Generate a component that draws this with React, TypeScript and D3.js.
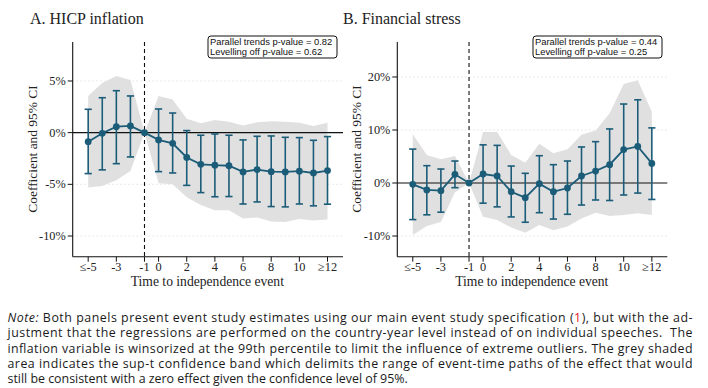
import * as d3 from "d3";

// event time periods (-5 bin ... 12 bin)
const periods = [-5, -4, -3, -2, -1, 0, 1, 2, 3, 4, 5, 6, 7, 8, 9, 10, 11, 12];
const tickValues = [-5, -3, -1, 0, 2, 4, 6, 8, 10, 12];
const tickLabels = ["≤-5", "-3", "-1", "0", "2", "4", "6", "8", "10", "≥12"];

// Panel A: HICP inflation (percent)
const hicpCoef = [-0.87, -0.06, 0.58, 0.65, 0, -0.7, -1.03, -2.4, -3.06, -3.15, -3.2, -3.8, -3.57, -3.77, -3.8, -3.73, -3.9, -3.67];
const hicpCiLo = [-3.96, -3.6, -3.0, -2.35, null, -3.77, -3.9, -5.1, -5.8, -6.2, -6.18, -6.9, -6.7, -7.15, -7.18, -6.9, -7.08, -6.92];
const hicpCiHi = [2.26, 3.38, 4.06, 3.55, null, 2.29, 1.9, 0.2, -0.25, -0.13, -0.25, -0.7, -0.35, -0.32, -0.45, -0.48, -0.74, -0.38];
const hicpBandLo = [-5.3, -5.15, -4.6, -3.7, 0, -4.9, -5.0, -6.25, -7.0, -7.5, -7.5, -8.3, -8.2, -8.6, -8.65, -8.35, -8.5, -8.4];
const hicpBandHi = [3.55, 4.8, 5.48, 5.1, 0, 3.55, 3.2, 1.35, 0.9, 1.23, 1.06, 0.7, 1.0, 1.1, 1.06, 0.97, 0.65, 0.97];
const hicpTicks = [5, 0, -5, -10];

// Panel B: Financial stress (percent)
const finCoef = [-0.25, -1.3, -1.45, 1.64, 0, 1.7, 1.32, -1.64, -2.77, -0.13, -1.64, -0.94, 1.32, 2.26, 3.46, 6.3, 6.9, 3.7];
const finCiLo = [-6.9, -6.0, -5.5, -0.88, null, -3.8, -4.5, -6.4, -7.4, -5.6, -6.8, -5.9, -4.15, -3.2, -3.3, -2.26, -1.9, -3.1];
const finCiHi = [6.4, 3.27, 2.64, 4.15, null, 7.2, 7.1, 3.2, 1.83, 5.15, 3.46, 4.15, 6.8, 7.8, 10.2, 14.9, 15.7, 10.4];
const finBandLo = [-9.8, -8.1, -7.36, -1.76, 0, -6.35, -7.0, -8.4, -9.4, -7.9, -8.9, -8.2, -6.7, -5.6, -6.2, -6.04, -5.7, -6.04];
const finBandHi = [9.2, 5.3, 4.5, 5.1, 0, 9.6, 9.6, 5.3, 3.8, 7.4, 5.6, 6.35, 9.1, 9.9, 13.15, 18.7, 19.4, 13.45];
const finTicks = [20, 10, 0, -10];

const noteLines = [
  "Both panels present event study estimates using our main event study specification (",
  "justment that the regressions are performed on the country-year level instead of on individual speeches.  The",
  "inflation variable is winsorized at the 99th percentile to limit the influence of extreme outliers. The grey shaded",
  "area indicates the sup-t confidence band which delimits the range of event-time paths of the effect that would",
  "still be consistent with a zero effect given the confidence level of 95%.",
];

const BLUE = "#1b5c78";
const SERIF = "'Liberation Serif', serif";
const SANS = "'Liberation Sans', Arial, sans-serif";

type PanelProps = {
  x0: number;
  x1: number;
  yDomain: [number, number];
  title: string;
  titleX: number;
  coef: number[];
  ciLo: (number | null)[];
  ciHi: (number | null)[];
  bandLo: number[];
  bandHi: number[];
  yTicks: number[];
  boxX: number;
  pTrend: string;
  pLevel: string;
};

function Panel(p: PanelProps) {
  const top = 42;
  const bottom = 256.7;
  const x = d3.scaleLinear().domain([-6.1, 13.1]).range([p.x0, p.x1]);
  const y = d3.scaleLinear().domain(p.yDomain).range([bottom, top]);

  const rows = periods.map((t, i) => ({
    t,
    c: p.coef[i],
    lo: p.ciLo[i],
    hi: p.ciHi[i],
    blo: p.bandLo[i],
    bhi: p.bandHi[i],
  }));

  const area = d3
    .area<(typeof rows)[0]>()
    .x((d) => x(d.t))
    .y0((d) => y(d.blo))
    .y1((d) => y(d.bhi));
  const line = d3
    .line<(typeof rows)[0]>()
    .x((d) => x(d.t))
    .y((d) => y(d.c));

  const midX = (p.x0 + p.x1) / 2 - 0.5;

  return (
    <g>
      <text x={p.titleX} y={24} fontFamily={SERIF} fontSize={16} fill="#222">
        {p.title}
      </text>

      {/* grid */}
      {p.yTicks
        .filter((v) => v !== 0)
        .map((v) => (
          <line
            key={v}
            x1={p.x0}
            x2={p.x1}
            y1={y(v)}
            y2={y(v)}
            stroke="#c8c8c8"
            strokeWidth={0.8}
            strokeDasharray="1 3"
          />
        ))}

      <path d={area(rows) ?? ""} fill="#e0e0e0" />

      <line x1={p.x0} x2={p.x1} y1={y(0)} y2={y(0)} stroke="#111" strokeWidth={1.2} />
      <line
        x1={x(-1)}
        x2={x(-1)}
        y1={top}
        y2={bottom}
        stroke="#111"
        strokeWidth={1.1}
        strokeDasharray="4 3"
      />

      {/* error bars */}
      {rows
        .filter((d) => d.lo !== null && d.hi !== null)
        .map((d) => (
          <g key={d.t} stroke={BLUE} strokeWidth={1.6}>
            <line x1={x(d.t)} x2={x(d.t)} y1={y(d.lo as number)} y2={y(d.hi as number)} />
            <line x1={x(d.t) - 3.6} x2={x(d.t) + 3.6} y1={y(d.lo as number)} y2={y(d.lo as number)} />
            <line x1={x(d.t) - 3.6} x2={x(d.t) + 3.6} y1={y(d.hi as number)} y2={y(d.hi as number)} />
          </g>
        ))}
      <path d={line(rows) ?? ""} fill="none" stroke={BLUE} strokeWidth={1.8} />
      {rows.map((d) => (
        <circle key={d.t} cx={x(d.t)} cy={y(d.c)} r={3.4} fill={BLUE} />
      ))}

      {/* axes */}
      <line x1={p.x0} x2={p.x0} y1={top} y2={bottom} stroke="#111" strokeWidth={1.1} />
      <line x1={p.x0} x2={p.x1} y1={bottom} y2={bottom} stroke="#111" strokeWidth={1.1} />
      {p.yTicks.map((v) => (
        <g key={v}>
          <line x1={p.x0 - 5} x2={p.x0} y1={y(v)} y2={y(v)} stroke="#111" strokeWidth={1} />
          <text
            x={p.x0 - 7}
            y={y(v)}
            dy="0.33em"
            textAnchor="end"
            fontFamily={SERIF}
            fontSize={12.3}
            fill="#222"
          >
            {`${v}%`}
          </text>
        </g>
      ))}
      {tickValues.map((v, i) => (
        <g key={v}>
          <line x1={x(v)} x2={x(v)} y1={bottom} y2={bottom + 5} stroke="#111" strokeWidth={1} />
          <text
            x={x(v)}
            y={271}
            textAnchor="middle"
            fontFamily={SERIF}
            fontSize={12.3}
            fill="#222"
          >
            {tickLabels[i]}
          </text>
        </g>
      ))}
      <text x={midX} y={285.5} textAnchor="middle" fontFamily={SERIF} fontSize={13.6} fill="#222">
        Time to independence event
      </text>
      <text
        transform={`translate(${p.x0 - 36},149) rotate(-90)`}
        textAnchor="middle"
        fontFamily={SERIF}
        fontSize={13.4}
        fill="#222"
      >
        Coefficient and 95% CI
      </text>

      {/* p-value box */}
      <rect
        x={p.boxX}
        y={36}
        width={129}
        height={22}
        rx={3}
        fill="#fff"
        stroke="#111"
        strokeWidth={1}
      />
      <text x={p.boxX + 2} y={45.3} fontFamily={SANS} fontSize={9.4} fill="#111">
        {p.pTrend}
      </text>
      <text x={p.boxX + 2} y={55} fontFamily={SANS} fontSize={9.4} fill="#111">
        {p.pLevel}
      </text>
    </g>
  );
}

export default function App() {
  const noteFont = "'Open Sans', 'Noto Sans', sans-serif";
  const noteY = [321.7, 337.2, 352.6, 368, 383.4];
  return (
    <div style={{ position: "fixed", left: 0, top: 0, background: "#fff" }}>
      <svg width={708} height={388} style={{ display: "block" }}>
        <rect width={708} height={388} fill="#fff" />
        <Panel
          x0={72.7}
          x1={343}
          yDomain={[-12, 8.77]}
          title="A. HICP inflation"
          titleX={30}
          coef={hicpCoef}
          ciLo={hicpCiLo}
          ciHi={hicpCiHi}
          bandLo={hicpBandLo}
          bandHi={hicpBandHi}
          yTicks={hicpTicks}
          boxX={208}
          pTrend="Parallel trends p-value = 0.82"
          pLevel="Levelling off p-value = 0.62"
        />
        <Panel
          x0={397.3}
          x1={667.3}
          yDomain={[-13.9, 26.6]}
          title="B. Financial stress"
          titleX={343}
          coef={finCoef}
          ciLo={finCiLo}
          ciHi={finCiHi}
          bandLo={finBandLo}
          bandHi={finBandHi}
          yTicks={finTicks}
          boxX={533}
          pTrend="Parallel trends p-value = 0.44"
          pLevel="Levelling off p-value = 0.25"
        />

        {/* note */}
        <text x={7.5} y={noteY[0]} fontFamily={noteFont} fontSize={12.4} fill="#1a1a1a" textLength={685} lengthAdjust="spacing">
          <tspan fontStyle="italic">Note:</tspan>
          {"  " + noteLines[0]}
          <tspan fill="#e8141c">1</tspan>
          {"), but with the ad-"}
        </text>
        {noteLines.slice(1, 4).map((s, i) => (
          <text
            key={i}
            x={7.5}
            y={noteY[i + 1]}
            fontFamily={noteFont}
            fontSize={12.4}
            fill="#1a1a1a"
            textLength={685}
            lengthAdjust="spacing"
            style={{ whiteSpace: "pre" }}
          >
            {s}
          </text>
        ))}
        <text x={7.5} y={noteY[4]} fontFamily={noteFont} fontSize={12.4} fill="#1a1a1a">
          {noteLines[4]}
        </text>
      </svg>
    </div>
  );
}
